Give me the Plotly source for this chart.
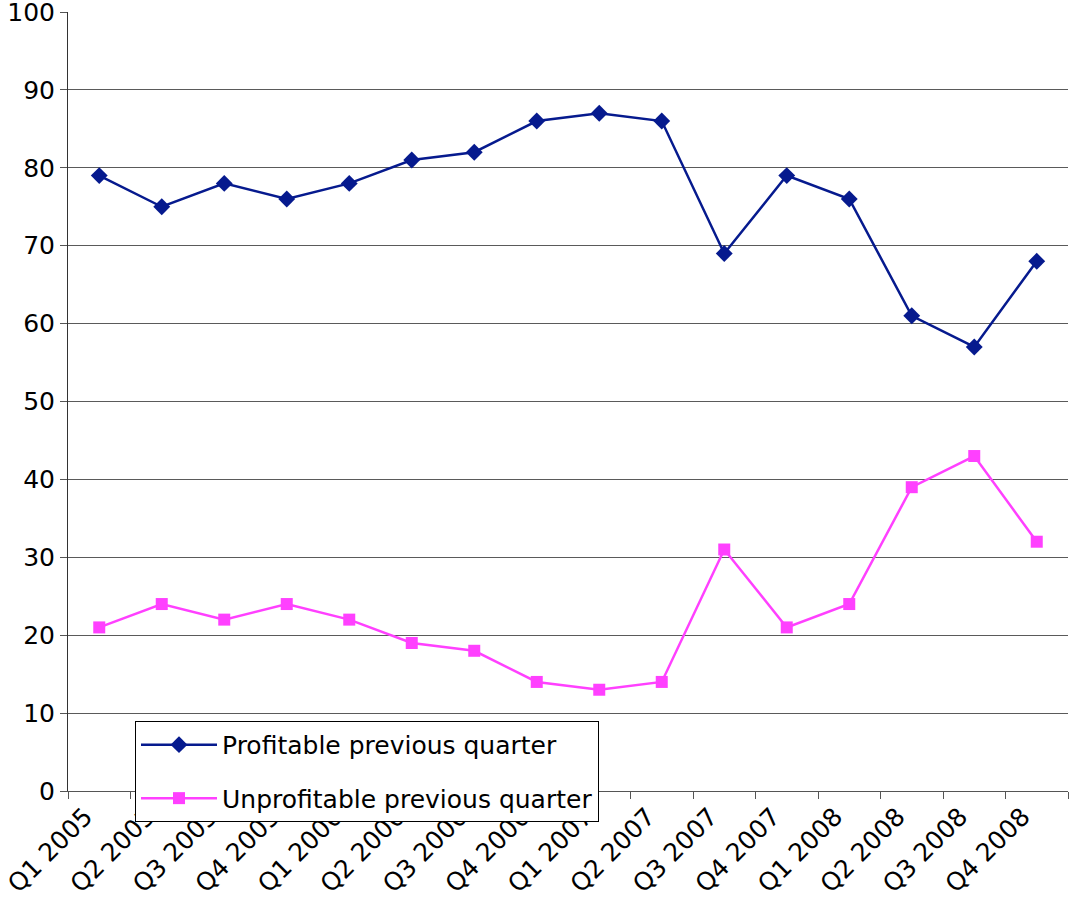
import plotly.graph_objects as go

quarters = ["Q1 2005", "Q2 2005", "Q3 2005", "Q4 2005", "Q1 2006", "Q2 2006", "Q3 2006", "Q4 2006",
            "Q1 2007", "Q2 2007", "Q3 2007", "Q4 2007", "Q1 2008", "Q2 2008", "Q3 2008", "Q4 2008"]
profitable = [79, 75, 78, 76, 78, 81, 82, 86, 87, 86, 69, 79, 76, 61, 57, 68]
unprofitable = [21, 24, 22, 24, 22, 19, 18, 14, 13, 14, 31, 21, 24, 39, 43, 32]

font_family = "DejaVu Sans, Verdana, sans-serif"

fig = go.Figure()
fig.add_trace(go.Scatter(
    x=quarters, y=profitable, name="Profitable previous quarter",
    mode="lines+markers", legendgroup="a",
    line=dict(color="#061A8E", width=2.5),
    marker=dict(symbol="diamond", size=13, color="#061A8E"),
))
fig.add_trace(go.Scatter(
    x=quarters, y=unprofitable, name="Unprofitable previous quarter",
    mode="lines+markers", legendgroup="b",
    line=dict(color="#FF40FF", width=2.5),
    marker=dict(symbol="square", size=12, color="#FF40FF"),
))

fig.update_layout(
    width=1070, height=909,
    margin=dict(l=68, r=2, t=12, b=118),
    paper_bgcolor="white", plot_bgcolor="white",
    font=dict(family=font_family, size=25, color="black"),
    showlegend=True,
    legend=dict(
        x=0.067, y=0.09, xanchor="left", yanchor="top",
        bgcolor="white", bordercolor="black", borderwidth=1,
        font=dict(size=25), traceorder="grouped", tracegroupgap=18,
        itemwidth=76,
    ),
    xaxis=dict(
        type="category", tickangle=-45, tickson="boundaries",
        ticks="outside", ticklen=7, tickcolor="#555555",
        showline=True, linecolor="#555555", linewidth=1,
        showgrid=False, range=[-0.5, 15.5], automargin=False,
        tickfont=dict(size=25), ticklabelshift=-14, ticklabeloverflow="allow",
    ),
    yaxis=dict(
        range=[0, 100], dtick=10, tick0=0,
        ticks="outside", ticklen=7, tickcolor="#555555",
        showline=True, linecolor="#333333", linewidth=1,
        showgrid=True, gridcolor="#5a5a5a", gridwidth=1,
        zeroline=False, tickfont=dict(size=25), automargin=False,
        ticklabeloverflow="allow",
    ),
)

fig.write_html(
    "out.html",
    config={"displayModeBar": False},
    post_script="document.body.style.margin='0';document.body.style.overflow='hidden';",
)
